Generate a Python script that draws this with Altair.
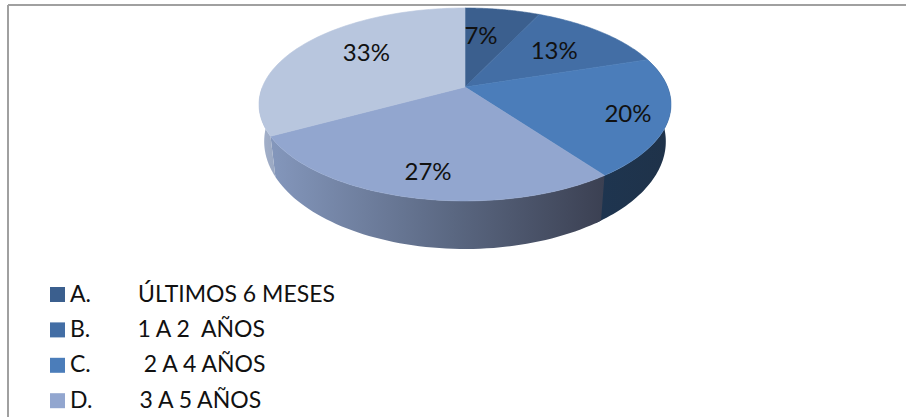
import math
import altair as alt

NB = "\u00a0"

# Survey answers: share of respondents per period, in percent
categories = [
    "A." + NB * 8 + "ÚLTIMOS 6 MESES",
    "B." + NB * 8 + "1 A 2" + NB * 2 + "AÑOS",
    "C." + NB * 9 + "2 A 4 AÑOS",
    "D." + NB * 8 + "3 A 5 AÑOS",
    "E.",
]
shares = [7, 13, 20, 27, 33]
face_colors = ["#3b5f8e", "#436ea5", "#4b7dba", "#92a6cf", "#b8c6de"]
legend_values = categories[:4]

FONT = "Lato"
TOP = dict(cx=465, cy=87, rx=202.6, ry=93.3)
BOTTOM = dict(cx=465, cy=122, rx=197.5, ry=104)
TILT = 0.181
# Fine adjustment of each percentage label, relative to its slice's middle
label_nudges = [(-11.5, 7), (-9, 5), (22.6, 7), (-1.7, 13), (16, -2)]


def disk_point(disk, turn, radius=1.0):
    """Project a point of the pie's disk, seen in perspective, to the page."""
    angle = 2 * math.pi * turn
    u, v = radius * math.sin(angle), radius * math.cos(angle)
    depth = 1 + TILT * v
    return [disk["cx"] + disk["rx"] * u / depth, disk["cy"] - disk["ry"] * v / depth]


def arc(disk, start, end, steps=60):
    return [disk_point(disk, start + (end - start) * i / steps) for i in range(steps + 1)]


def feature(ring, name):
    ring = ring + [ring[0]]
    return {
        "type": "Feature",
        "properties": {"cat": name},
        "geometry": {"type": "Polygon", "coordinates": [ring]},
    }


edges = [sum(shares[:i]) / sum(shares) for i in range(len(shares) + 1)]

faces = [
    feature([[TOP["cx"], TOP["cy"]]] + arc(TOP, edges[i], edges[i + 1]), categories[i])
    for i in range(len(shares))
]


def rim(start, end):
    return [feature(arc(TOP, start, end) + arc(BOTTOM, end, start), "rim")]


labels = []
for i, share in enumerate(shares):
    x, y = disk_point(TOP, (edges[i] + edges[i + 1]) / 2, 0.7)
    labels.append({"lon": x + label_nudges[i][0], "lat": y + label_nudges[i][1], "text": f"{share}%"})

projection = alt.Projection(type="identity", scale=1, translate=[0, 0])


def rim_layer(start, end, stops):
    return alt.Chart(alt.Data(values=rim(start, end))).mark_geoshape(
        fill=alt.Gradient(
            gradient="linear", x1=0, x2=1, y1=0, y2=0,
            stops=[alt.GradientStop(offset=o, color=c) for o, c in stops],
        ),
        strokeWidth=0,
    ).project(**projection.to_dict())


# The visible side wall: drawn first, then covered by the top faces
rims = [
    rim_layer(edges[2], edges[3] + 0.005, [(0, "#1e3550"), (1, "#1f3249")]),
    rim_layer(edges[3], edges[4], [(0, "#8497bc"), (0.55, "#5a6781"), (1, "#3b4052")]),
    rim_layer(edges[4], 0.75, [(0, "#a5b2cb"), (1, "#9aa8c2")]),
]

color_scale = alt.Scale(domain=categories, range=face_colors)

top_faces = alt.Chart(alt.Data(values=faces)).mark_geoshape(strokeWidth=0.6).encode(
    color=alt.Color(
        "properties.cat:N",
        scale=color_scale,
        legend=alt.Legend(
            title=None,
            orient="none",
            legendX=46,
            legendY=283,
            values=legend_values,
            symbolType="square",
            symbolSize=225,
            symbolStrokeWidth=0,
            labelFont=FONT,
            labelFontSize=23,
            labelColor="#111111",
            labelOffset=1,
            labelLimit=400,
            rowPadding=11.4,
            padding=0,
        ),
    ),
    stroke=alt.Stroke("properties.cat:N", scale=color_scale, legend=None),
).project(**projection.to_dict())

percent_labels = alt.Chart(alt.Data(values=labels)).mark_text(
    font=FONT, fontSize=24, color="#111111"
).encode(
    longitude="lon:Q", latitude="lat:Q", text="text:N"
).project(**projection.to_dict())

frame_top = alt.Chart(alt.Data(values=[{"k": 0}])).mark_rule(color="#a0a0a0", strokeWidth=2).encode(
    x=alt.value(8), x2=alt.value(906), y=alt.value(5)
)
frame_left = alt.Chart(alt.Data(values=[{"k": 0}])).mark_rule(color="#a0a0a0", strokeWidth=2).encode(
    x=alt.value(8), y=alt.value(5), y2=alt.value(417)
)

chart = alt.layer(frame_top, frame_left, *rims, top_faces, percent_labels).properties(
    width=906,
    height=417,
    padding=0,
    autosize=alt.AutoSizeParams(type="none"),
    background="white",
).configure_view(stroke=None)

chart.save("out.html", embed_options={"renderer": "svg", "actions": False})
